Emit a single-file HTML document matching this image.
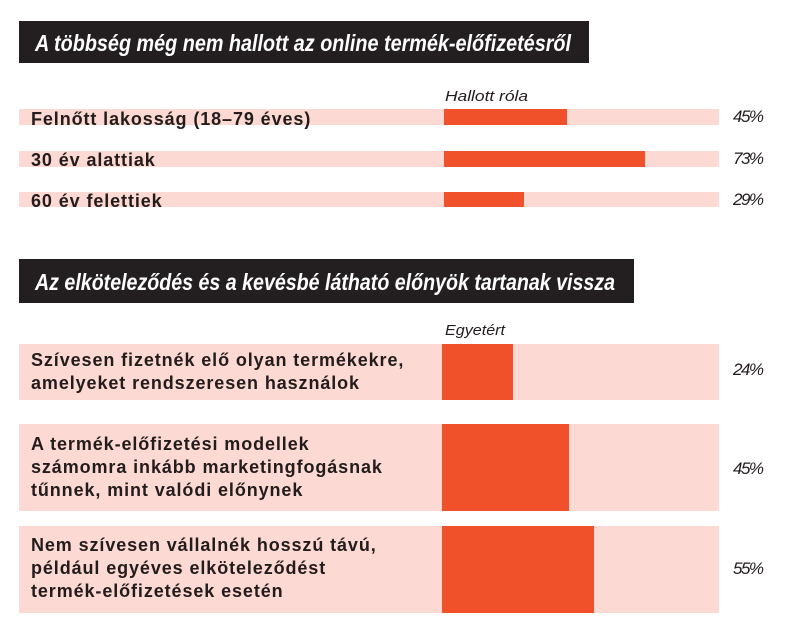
<!DOCTYPE html>
<html><head><meta charset="utf-8"><style>
body{margin:0;width:802px;height:640px;background:#fff;position:relative;overflow:hidden;font-family:"Liberation Sans",sans-serif;color:#231c1c}
.t{position:absolute;background:#231f20}
.bg{position:absolute;left:19px;width:700px;background:#fcd9d2}
.or{position:absolute;background:#f0502a}
.lb{position:absolute;left:31px;font-weight:bold;font-size:18px;line-height:23px;white-space:nowrap;letter-spacing:0.9px}
.p{position:absolute;left:733px;font-style:italic;font-size:17px;letter-spacing:-1.5px}
svg{position:absolute;left:0;top:0}
</style></head><body>
<div class="t" style="left:19px;top:21px;width:570px;height:42px"></div>
<div class="t" style="left:19px;top:259px;width:615px;height:44px"></div>
<div class="bg" style="top:109px;height:16px"></div><div class="or" style="left:444px;width:123px;top:109px;height:16px"></div>
<div class="lb" style="top:108px">Felnőtt lakosság (18–79 éves)</div><div class="p" style="top:107px">45%</div>
<div class="bg" style="top:151px;height:16px"></div><div class="or" style="left:444px;width:201px;top:151px;height:16px"></div>
<div class="lb" style="top:149px">30 év alattiak</div><div class="p" style="top:149px">73%</div>
<div class="bg" style="top:192px;height:15px"></div><div class="or" style="left:444px;width:80px;top:192px;height:15px"></div>
<div class="lb" style="top:190px">60 év felettiek</div><div class="p" style="top:190px">29%</div>

<div class="bg" style="top:344px;height:56px"></div><div class="or" style="left:442px;width:71px;top:344px;height:56px"></div>
<div class="lb" style="top:349px">Szívesen fizetnék elő olyan termékekre,<br>amelyeket rendszeresen használok</div><div class="p" style="top:360px">24%</div>
<div class="bg" style="top:424px;height:87px"></div><div class="or" style="left:442px;width:127px;top:424px;height:87px"></div>
<div class="lb" style="top:433px">A termék-előfizetési modellek<br>számomra inkább marketingfogásnak<br>tűnnek, mint valódi előnynek</div><div class="p" style="top:459px">45%</div>
<div class="bg" style="top:526px;height:87px"></div><div class="or" style="left:442px;width:152px;top:526px;height:87px"></div>
<div class="lb" style="top:534px">Nem szívesen vállalnék hosszú távú,<br>például egyéves elköteleződést<br>termék-előfizetések esetén</div><div class="p" style="top:559px">55%</div>
<svg width="802" height="640">
<g font-family="Liberation Sans, sans-serif" font-style="italic">
<text x="35" y="51" fill="#fff" font-size="23" font-weight="bold" textLength="536" lengthAdjust="spacingAndGlyphs">A többség még nem hallott az online termék-előfizetésről</text>
<text x="35" y="290" fill="#fff" font-size="23" font-weight="bold" textLength="580" lengthAdjust="spacingAndGlyphs">Az elköteleződés és a kevésbé látható előnyök tartanak vissza</text>
<text x="445" y="101" fill="#231c1c" font-size="15" textLength="83" lengthAdjust="spacingAndGlyphs">Hallott róla</text>
<text x="445" y="335" fill="#231c1c" font-size="15" textLength="60" lengthAdjust="spacingAndGlyphs">Egyetért</text>
</g></svg>
</body></html>
